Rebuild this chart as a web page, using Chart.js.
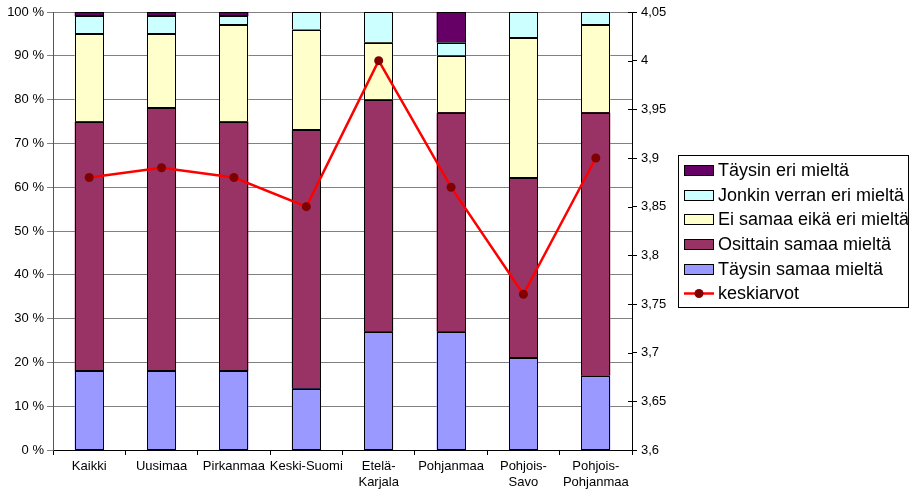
<!DOCTYPE html>
<html>
<head>
<meta charset="utf-8">
<script src="https://cdn.jsdelivr.net/npm/chart.js@4/dist/chart.umd.min.js"></script>
<style>
  html, body { margin: 0; padding: 0; background: #ffffff; }
  #wrap { width: 910px; height: 492px; }
</style>
</head>
<body>
<div id="wrap"><canvas id="c" width="910" height="492"></canvas></div>
<script>
// Regions shown along the bottom axis
const categories = ['Kaikki', 'Uusimaa', 'Pirkanmaa', 'Keski-Suomi', ['Etelä-', 'Karjala'], 'Pohjanmaa', ['Pohjois-', 'Savo'], ['Pohjois-', 'Pohjanmaa']];

// Answer shares, percent (bottom of the stack first)
const taysinSamaa    = [18, 18, 18, 14, 27, 27, 21, 17];
const osittainSamaa  = [57, 60, 57, 59, 53, 50, 41, 60];
const eiSamaaEikaEri = [20, 17, 22, 23, 13, 13, 32, 20];
const jonkinVerran   = [4, 4, 2, 4, 7, 3, 6, 3];
const taysinEri      = [1, 1, 1, 0, 0, 7, 0, 0];

// Mean score per region (right axis)
const keskiarvot = [3.88, 3.89, 3.88, 3.85, 4.00, 3.87, 3.76, 3.90];

// Axis tick values
const percentTicks = [0, 10, 20, 30, 40, 50, 60, 70, 80, 90, 100];
const meanTicks = [3.6, 3.65, 3.7, 3.75, 3.8, 3.85, 3.9, 3.95, 4.0, 4.05];

const FONT = '"Liberation Sans", Arial, sans-serif';

function barSet(label, data, color) {
  return {
    type: 'bar', label, data, backgroundColor: color,
    borderWidth: 0,
    yAxisID: 'y', order: 1,
    categoryPercentage: 1.0, barPercentage: 0.4
  };
}

const datasets = [
  barSet('Täysin samaa mieltä', taysinSamaa, '#9999FF'),
  barSet('Osittain samaa mieltä', osittainSamaa, '#993366'),
  barSet('Ei samaa eikä eri mieltä', eiSamaaEikaEri, '#FFFFCC'),
  barSet('Jonkin verran eri mieltä', jonkinVerran, '#CCFFFF'),
  barSet('Täysin eri mieltä', taysinEri, '#660066'),
  {
    type: 'line', label: 'keskiarvot', data: keskiarvot, yAxisID: 'y1', order: 0,
    borderColor: '#FF0000', borderWidth: 2.5, tension: 0,
    pointRadius: 4.5, pointBackgroundColor: '#800000', pointBorderColor: '#800000', pointBorderWidth: 0,
    fill: false
  }
];

// Crisp black outline around every bar segment
const segmentOutline = {
  id: 'segmentOutline',
  afterDatasetDraw(chart, args) {
    const meta = args.meta;
    if (meta.type !== 'bar') return;
    const ctx = chart.ctx;
    ctx.save();
    ctx.strokeStyle = '#000000';
    ctx.lineWidth = 1;
    meta.data.forEach(el => {
      const p = el.getProps(['x', 'y', 'base', 'width'], true);
      if (Math.abs(p.base - p.y) < 0.5) return;
      const l = Math.round(p.x - p.width / 2) + 0.5;
      const r = Math.round(p.x + p.width / 2) - 0.5;
      const t = Math.round(Math.min(p.y, p.base)) + 0.5;
      const b = Math.round(Math.max(p.y, p.base)) - 0.5;
      ctx.strokeRect(l, t, r - l, b - t);
    });
    ctx.restore();
  }
};

// Boxed legend on the right; bar series listed top of stack first, line last
const boxLegend = {
  id: 'boxLegend',
  afterDraw(chart) {
    const ctx = chart.ctx;
    const ds = chart.data.datasets;
    const items = ds.filter(d => d.type === 'bar').slice().reverse().concat(ds.filter(d => d.type === 'line'));
    const x0 = 678.5, y0 = 155.5, w = 230, h = 152;
    ctx.save();
    ctx.strokeStyle = '#000000';
    ctx.lineWidth = 1;
    ctx.strokeRect(x0, y0, w, h);
    ctx.font = '18px ' + FONT;
    ctx.textBaseline = 'middle';
    items.forEach((d, i) => {
      const cy = 170 + i * 24.7;
      if (d.type === 'bar') {
        const top = Math.round(cy - 5);
        ctx.fillStyle = d.backgroundColor;
        ctx.fillRect(684, top, 30, 11);
        ctx.strokeStyle = '#000000';
        ctx.lineWidth = 1;
        ctx.strokeRect(684.5, top + 0.5, 29, 10);
      } else {
        ctx.strokeStyle = d.borderColor;
        ctx.lineWidth = 2.5;
        ctx.beginPath();
        ctx.moveTo(684, cy);
        ctx.lineTo(714, cy);
        ctx.stroke();
        ctx.fillStyle = d.pointBackgroundColor;
        ctx.beginPath();
        ctx.arc(699, cy, 4.5, 0, Math.PI * 2);
        ctx.fill();
        ctx.lineWidth = 1;
      }
      ctx.fillStyle = '#000000';
      ctx.fillText(d.label, 718, cy + 1);
    });
    ctx.restore();
  }
};

// Right-axis tick marks cross the axis line
const crossTicks = {
  id: 'crossTicks',
  afterDraw(chart) {
    const s = chart.scales.y1;
    const ctx = chart.ctx;
    ctx.save();
    ctx.strokeStyle = '#000000';
    ctx.lineWidth = 1;
    s.ticks.forEach(t => {
      const y = Math.round(s.getPixelForValue(t.value)) + 0.5;
      ctx.beginPath();
      ctx.moveTo(s.left - 4, y);
      ctx.lineTo(s.left, y);
      ctx.stroke();
    });
    ctx.restore();
  }
};

new Chart(document.getElementById('c'), {
  data: { labels: categories, datasets },
  options: {
    responsive: false,
    animation: false,
    devicePixelRatio: 1,
    layout: { padding: { top: 12, left: 0, right: 0, bottom: 0 } },
    plugins: { legend: { display: false }, tooltip: { enabled: false } },
    scales: {
      x: {
        stacked: true,
        offset: true,
        afterFit(scale) { scale.height = 42; },
        grid: { display: true, drawOnChartArea: false, offset: true, tickLength: 5, color: '#000000' },
        border: { display: true, color: '#000000', width: 1 },
        ticks: { color: '#000000', font: { family: FONT, size: 13 }, padding: 4, maxRotation: 0, autoSkip: false }
      },
      y: {
        stacked: true,
        position: 'left',
        min: 0, max: 100,
        afterFit(scale) { scale.width = 53; },
        afterBuildTicks(scale) { scale.ticks = percentTicks.map(v => ({ value: v })); },
        grid: { color: '#808080', tickLength: 6, lineWidth: 1 },
        border: { display: true, color: '#555555', width: 1 },
        ticks: { color: '#000000', font: { family: FONT, size: 13 }, padding: 3, callback: v => v + ' %' }
      },
      y1: {
        position: 'right',
        min: 3.6, max: 4.05,
        afterFit(scale) { scale.width = 278; },
        afterBuildTicks(scale) { scale.ticks = meanTicks.map(v => ({ value: v })); },
        grid: { drawOnChartArea: false, tickLength: 5, color: '#000000' },
        border: { display: true, color: '#000000', width: 1 },
        ticks: { color: '#000000', font: { family: FONT, size: 13 }, padding: 4,
          callback: v => Number(v.toFixed(2)).toString().replace('.', ',') }
      }
    }
  },
  plugins: [segmentOutline, boxLegend, crossTicks]
});
</script>
</body>
</html>
